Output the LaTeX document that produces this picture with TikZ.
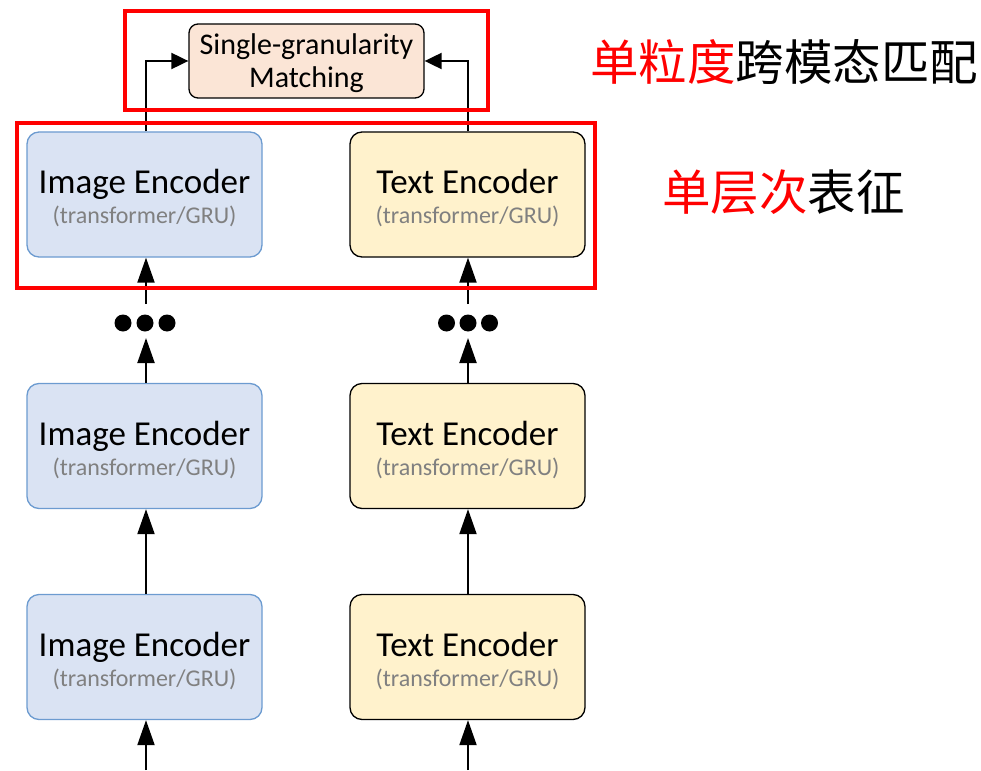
\documentclass[tikz,border=0pt]{standalone}
\usepackage{fontspec}
\setmainfont{Carlito}
\newfontfamily\cjk{Noto Sans CJK SC}
\usetikzlibrary{arrows.meta}
\definecolor{imgfill}{HTML}{DAE3F3}
\definecolor{imgline}{HTML}{6C9BD0}
\definecolor{txtfill}{HTML}{FFF2CC}
\definecolor{matchfill}{HTML}{FBE5D6}
\definecolor{subgray}{HTML}{808080}
\definecolor{hlred}{HTML}{FF0000}
\tikzset{
  encbox/.style={rounded corners=12pt, minimum width=235pt, minimum height=125pt,
    line width=1.3pt, inner sep=0pt},
  imgbox/.style={encbox, fill=imgfill, draw=imgline},
  txtbox/.style={encbox, fill=txtfill, draw=black},
  enctext/.style={align=center, inner sep=0pt, font=\fontsize{24}{30}\selectfont},
  matchbox/.style={rounded corners=9pt, minimum width=235pt, minimum height=74pt,
    fill=matchfill, draw=black, line width=1.3pt, inner sep=0pt},
  matchtext/.style={align=center, inner sep=0pt, font=\fontsize{30}{33}\selectfont},
  flow/.style={-{Triangle[length=25pt,width=17pt]}, line width=2pt},
  sideflow/.style={-{Triangle[length=17pt,width=16pt]}, line width=2pt},
  redframe/.style={draw=hlred, line width=3.8pt},
  dot/.style={circle, fill=black, minimum size=17pt, inner sep=0pt},
  cn/.style={font=\cjk\fontsize{48.5}{54}\selectfont, anchor=west, inner sep=0pt}
}
\newcommand{\enc}[1]{{\fontsize{35}{30}\selectfont #1}\\{\color{subgray}(transformer/GRU)}}
\begin{document}
\begin{tikzpicture}[x=1pt,y=-1pt]
\useasboundingbox (0,0) rectangle (981,770);

% encoder stacks
\node[imgbox] (i3) at (144.5,194.5) {};
\node[imgbox] (i2) at (144.5,446) {};
\node[imgbox] (i1) at (144.5,657) {};
\node[txtbox] (t3) at (467.5,194.5) {};
\node[txtbox] (t2) at (467.5,446) {};
\node[txtbox] (t1) at (467.5,657) {};
\foreach \b in {i1,i2,i3}
  \node[enctext] (\b-label) at ([yshift=-4pt]\b.center) {\enc{Image Encoder}};
\foreach \b in {t1,t2,t3}
  \node[enctext] (\b-label) at ([yshift=-4pt]\b.center) {\enc{Text Encoder}};

% matching head
\node[matchbox] (m) at (306.5,61) {};
\node[matchtext] (m-label) at ([yshift=-2pt]m.center) {Single-granularity\\Matching};

% ellipsis dots
\node[dot] (di) at (145,323) {};
\node[dot] (dil) at (123,323) {};
\node[dot] (dir) at (167,323) {};
\node[dot] (dt) at (468,323) {};
\node[dot] (dtl) at (446.5,323) {};
\node[dot] (dtr) at (489.5,323) {};

% inputs and the gaps around the dots
\coordinate (ii) at (146,770);
\coordinate (ti) at (468,770);
\coordinate (ia) at (146,338);
\coordinate (ta) at (468,338);
\coordinate (ib) at (146,304);
\coordinate (tb) at (468,304);

% flow arrows
\draw[flow] (ii) -- (i1.south -| ii);
\draw[flow] (ti) -- (t1.south -| ti);
\draw[flow] (i1.north -| ii) -- (i2.south -| ii);
\draw[flow] (t1.north -| ti) -- (t2.south -| ti);
\draw[flow] (i2.north -| ii) -- (ia);
\draw[flow] (t2.north -| ti) -- (ta);
\draw[flow] (ib) -- (i3.south -| ii);
\draw[flow] (tb) -- (t3.south -| ti);
\draw[sideflow] (i3.north -| ii) |- (m.west);
\draw[sideflow] (t3.north -| ti) |- (m.east);

% highlight frames
\draw[redframe] (125,11) rectangle (488,110);
\draw[redframe] (17,123) rectangle (595,288);

% annotations
\node[cn] (lab1) at (590,62) {\textcolor{hlred}{单粒度}跨模态匹配};
\node[cn] (lab2) at (662,192) {\textcolor{hlred}{单层次}表征};
\end{tikzpicture}
\end{document}
